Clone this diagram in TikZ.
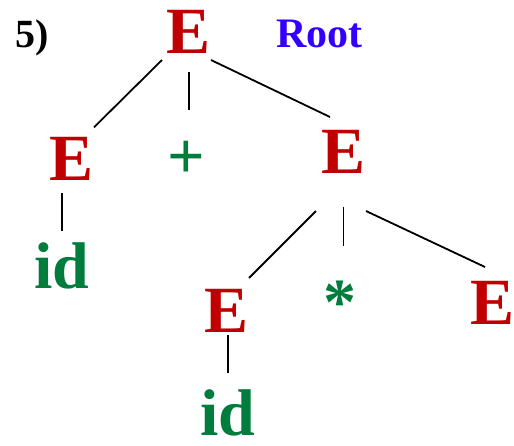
\documentclass[tikz,border=0pt]{standalone}
\usepackage{fontspec}
\setmainfont{Liberation Serif}
\usetikzlibrary{calc}
\definecolor{ntred}{RGB}{192,0,0}
\definecolor{tgreen}{RGB}{0,125,60}
\definecolor{rootblue}{RGB}{51,0,255}
\begin{document}
\begin{tikzpicture}[x=1pt,y=-1pt,
  sym/.style={inner sep=0pt, outer sep=0pt, anchor=base,
    text height=43.7pt, text depth=0pt, font=\fontsize{66}{66}\selectfont\bfseries},
  nonterm/.style={sym, text=ntred},
  term/.style={sym, text=tgreen},
  edge/.style={line width=1.8pt, black}]
\useasboundingbox (0,0) rectangle (514,445);

% labels
\node[anchor=base west, inner sep=0pt, font=\fontsize{40}{40}\selectfont\bfseries] (num) at (15,47) {5)};
\node[anchor=base, inner sep=0pt, text=rootblue, font=\fontsize{42}{42}\selectfont\bfseries] (rootlbl) at (319.5,47) {Root};

% parse tree symbols
\node[nonterm] (root) at (189,53) {E};
\node[nonterm] (lE)   at (72,180) {E};
\node[term]    (plus) at (186,178) {+};
\node[nonterm] (rE)   at (343.5,173) {E};
\node[term]    (lid)  at (62,288) {id};
\node[nonterm] (mE)   at (227,332) {E};
\node[term]    (star) at (340,324) {*};
\node[nonterm] (rrE)  at (493,324) {E};
\node[term]    (mid)  at (228,435) {id};

% tree edges
\draw[edge] ($(root.south west)+(-5,7)$) -- ($(lE.north east)+(0,-9)$);
\draw[edge, shorten <=19pt, shorten >=24pt] (root.south) -- (root.south |- plus.north);
\draw[edge] ($(root.south east)+(0,7)$) -- ($(rE.north west)+(8.5,-12.3)$);
\draw[edge, shorten <=13pt, shorten >=13.3pt] (lid.north |- lE.south) -- (lid.north);
\draw[edge] ($(rE.south)+(-27.5,38)$) -- ($(mE.north east)+(0,-10.3)$);
\draw[edge, shorten <=34pt, shorten >=34.3pt] (rE.south) -- (rE.south |- star.north);
\draw[edge] ($(rE.south east)+(0.5,38)$) -- ($(rrE.north west)+(14,-13.3)$);
\draw[edge, shorten <=3pt, shorten >=18.3pt] (mid.north |- mE.south) -- (mid.north);
\end{tikzpicture}
\end{document}
